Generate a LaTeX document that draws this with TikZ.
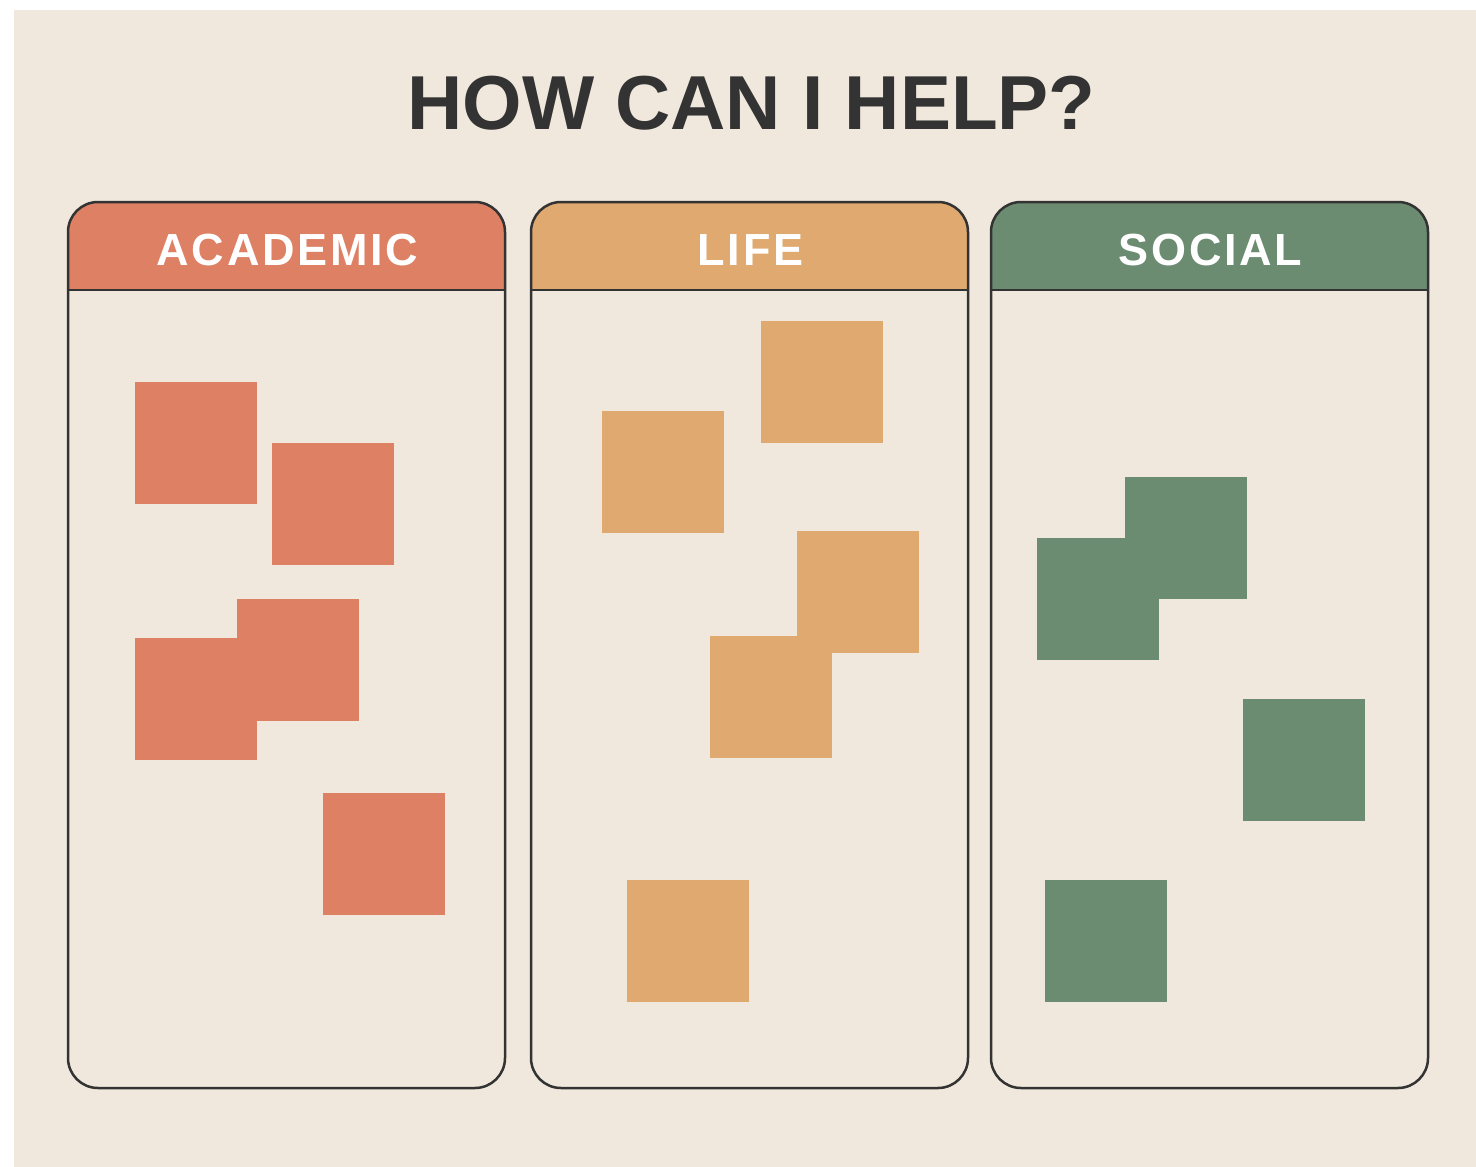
\documentclass[tikz,border=0pt]{standalone}
\usepackage{fontspec}
\setmainfont{Liberation Sans}
\newfontfamily\hdrfont[LetterSpace=6]{Liberation Sans}
\definecolor{bgc}{HTML}{F0E8DC}
\definecolor{inkc}{HTML}{333333}
\definecolor{acadc}{HTML}{DD8063}
\definecolor{lifec}{HTML}{E0A96F}
\definecolor{socc}{HTML}{6B8C71}
\tikzset{
  titletext/.style={text=inkc, font=\fontsize{76.5}{80}\selectfont\bfseries, anchor=base, inner sep=0},
  hdrtext/.style={text=white, font=\hdrfont\fontsize{45}{50}\selectfont\bfseries, anchor=base, inner sep=0},
  outline/.style={draw=inkc, line width=2.5pt, rounded corners=30pt},
  sep/.style={draw=inkc, line width=2.5pt},
}
\newcommand{\mypanel}[4]{%
  \begin{scope}
    \clip[rounded corners=30pt] (#1,202) rectangle ({#1+437},1088);
    \fill[#2] (#1,202) rectangle ({#1+437},290);
  \end{scope}
  \draw[outline] (#1,202) rectangle ({#1+437},1088);
  \draw[sep] (#1,290) -- ({#1+437},290);
  \node[hdrtext] (#4) at ({#1+219.5},265) {#3};
}
\newcommand{\sq}[3]{\fill[#1] (#2,#3) rectangle ({#2+122},{#3+122});}
\begin{document}
\begin{tikzpicture}[x=1pt,y=-1pt]
\useasboundingbox (0,0) rectangle (1476,1167);
\fill[white] (0,0) rectangle (1476,1167);
\fill[bgc] (14,10) rectangle (1476,1167);
\node[titletext] (title) at (751.5,129) {HOW CAN I HELP?};
\mypanel{68}{acadc}{ACADEMIC}{academic}
\mypanel{531}{lifec}{LIFE}{life}
\mypanel{991}{socc}{SOCIAL}{social}
% academic squares
\sq{acadc}{135}{382}
\sq{acadc}{272}{443}
\sq{acadc}{237}{599}
\sq{acadc}{135}{638}
\sq{acadc}{323}{793}
% life squares
\sq{lifec}{761}{321}
\sq{lifec}{602}{411}
\sq{lifec}{797}{531}
\sq{lifec}{710}{636}
\sq{lifec}{627}{880}
% social squares
\sq{socc}{1125}{477}
\sq{socc}{1037}{538}
\sq{socc}{1243}{699}
\sq{socc}{1045}{880}
\end{tikzpicture}
\end{document}
